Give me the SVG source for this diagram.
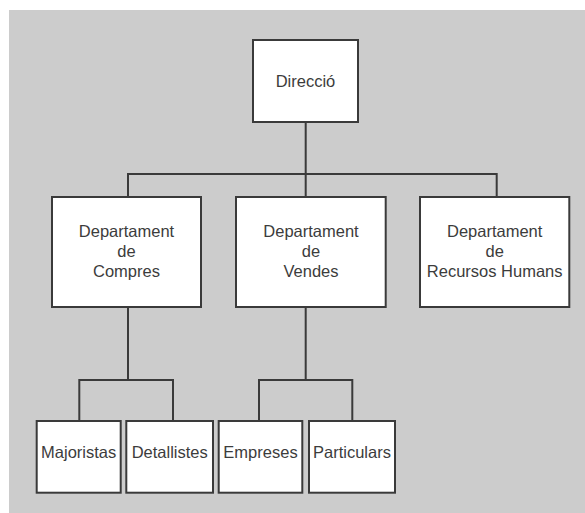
<svg xmlns="http://www.w3.org/2000/svg" width="585" height="513" viewBox="0 0 585 513">
<style>
.box{fill:#ffffff;stroke:#3a3a3a;stroke-width:2}
.lbl{font-family:"Liberation Sans",Arial,Helvetica,sans-serif;font-size:16.5px;fill:#3c3c3c;text-anchor:middle}
.conn{fill:none;stroke:#3a3a3a;stroke-width:2}
</style>
<rect x="0" y="0" width="585" height="513" fill="#ffffff"/>
<rect x="9" y="10" width="576" height="503" fill="#cccccc"/>
<g id="connectors">
<path class="conn" d="M305.7 122 V197 M128 197 V174 H496.7 V197"/>
<path class="conn" d="M128 307 V380 M79.3 421 V380 H173 V421"/>
<path class="conn" d="M305.7 307 V380 M259 421 V380 H352.3 V421"/>
</g>
<g id="direccio">
<rect class="box" x="253" y="40" width="105" height="82"/>
<text class="lbl" x="305.5" y="86.5">Direcció</text>
</g>
<g id="compres">
<rect class="box" x="52" y="197" width="149" height="110"/>
<text class="lbl" x="126.5" y="236.5">Departament</text>
<text class="lbl" x="126.5" y="256.5">de</text>
<text class="lbl" x="126.5" y="276.5">Compres</text>
</g>
<g id="vendes">
<rect class="box" x="236" y="197" width="149.7" height="110"/>
<text class="lbl" x="311" y="236.5">Departament</text>
<text class="lbl" x="311" y="256.5">de</text>
<text class="lbl" x="311" y="276.5">Vendes</text>
</g>
<g id="rrhh">
<rect class="box" x="420" y="197" width="149.3" height="110"/>
<text class="lbl" x="494.7" y="236.5">Departament</text>
<text class="lbl" x="494.7" y="256.5">de</text>
<text class="lbl" x="494.7" y="276.5">Recursos Humans</text>
</g>
<g id="majoristas">
<rect class="box" x="36.7" y="421" width="84" height="71.7"/>
<text class="lbl" x="78.7" y="458">Majoristas</text>
</g>
<g id="detallistes">
<rect class="box" x="126.3" y="421" width="86.7" height="71.7"/>
<text class="lbl" x="169.7" y="458">Detallistes</text>
</g>
<g id="empreses">
<rect class="box" x="218.7" y="421" width="83.6" height="71.7"/>
<text class="lbl" x="260.5" y="458">Empreses</text>
</g>
<g id="particulars">
<rect class="box" x="309" y="421" width="86" height="71.7"/>
<text class="lbl" x="352" y="458">Particulars</text>
</g>
</svg>
